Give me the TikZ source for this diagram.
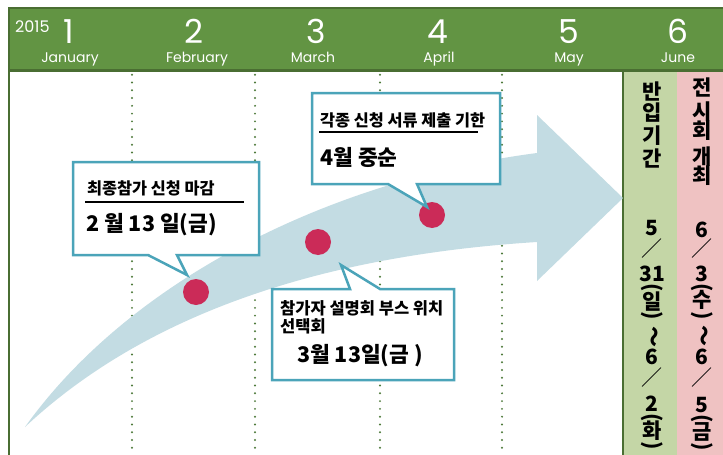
\documentclass[tikz,border=0pt]{standalone}
\usepackage{fontspec}
\newfontfamily\kr{Noto Sans CJK KR}
\newfontfamily\hdr{Poppins}
\definecolor{hdrgreen}{HTML}{629443}
\definecolor{hdrdark}{HTML}{4A6E32}
\definecolor{dotgreen}{HTML}{4E7A3B}
\definecolor{arrowblue}{HTML}{C3DCE3}
\definecolor{dotred}{HTML}{CB2B58}
\definecolor{calloutc}{HTML}{4BA4B9}
\definecolor{colgreen}{HTML}{C4D6A6}
\definecolor{colpink}{HTML}{EFC2C2}
\begin{document}
\begin{tikzpicture}[x=1pt,y=-1pt,
  hdrnum/.style={font=\hdr\fontsize{33}{33}\selectfont, text=white, anchor=base, inner sep=0pt, text depth=0pt, text height=24pt},
  hdrmon/.style={font=\hdr\fontsize{14}{14}\selectfont, text=white, anchor=base, inner sep=0pt, text height=10pt},
  hdryear/.style={font=\hdr\fontsize{16}{16}\selectfont, text=white, anchor=base west, inner sep=0pt, text depth=0pt},
  dotline/.style={dotgreen, line width=2.2pt, line cap=round, dash pattern=on 0pt off 7.77pt},
  callout/.style={draw=calloutc, fill=white, line width=2.5pt, line join=miter},
  kts/.style={font=\kr\bfseries\fontsize{16.3}{17}\selectfont, anchor=west, inner sep=0pt},
  ktm/.style={font=\kr\bfseries\fontsize{16.5}{17}\selectfont, anchor=west, inner sep=0pt},
  ktl/.style={font=\kr\bfseries\fontsize{21.5}{22}\selectfont, anchor=west, inner sep=0pt},
  uline/.style={black, line width=2pt},
  reddot/.style={circle, fill=dotred, minimum size=26pt, inner sep=0pt},
  colk/.style={font=\kr\bfseries\fontsize{21}{21}\selectfont, inner sep=0pt, anchor=center},
  colslash/.style={font=\kr\fontsize{21}{21}\selectfont, inner sep=0pt, anchor=center},
  colrot/.style={font=\kr\bfseries\fontsize{21}{21}\selectfont, inner sep=0pt, anchor=center, rotate=-90}
]
\useasboundingbox (0,0) rectangle (723,455);
\fill[white] (0,0) rectangle (723,455);

% right columns
\fill[colgreen] (623,71) rectangle (677,455);
\fill[colpink] (677,71) rectangle (723,455);
\draw[hdrdark, line width=2pt] (623,71) -- (623,455);

% dotted month lines
\draw[dotline] (132,67) -- (132,455);
\draw[dotline] (255,67) -- (255,455);
\draw[dotline] (380,67) -- (380,455);
\draw[dotline] (502,67) -- (502,455);

% header band
\fill[hdrgreen] (8,8) rectangle (723,70);
\draw[hdrdark, line width=2pt] (8,8) -- (723,8);
\draw[hdrdark, line width=3pt] (8,70) -- (723,70);
\draw[hdrdark, line width=2.5pt] (9,7) -- (9,455);

\node[hdryear] (year) at (15,32) {2015};
\node[hdrnum] (n1) at (69,43) {1};
\node[hdrnum] (n2) at (194,43) {2};
\node[hdrnum] (n3) at (316,43) {3};
\node[hdrnum] (n4) at (438,43) {4};
\node[hdrnum] (n5) at (569,43) {5};
\node[hdrnum] (n6) at (678,43) {6};
\node[hdrmon] (m1) at (70,62) {January};
\node[hdrmon] (m2) at (197,62) {February};
\node[hdrmon] (m3) at (313,62) {March};
\node[hdrmon] (m4) at (439,62) {April};
\node[hdrmon] (m5) at (569,62) {May};
\node[hdrmon] (m6) at (678,62) {June};

% big curved arrow
\fill[arrowblue] (25,427) .. controls (130,280) and (330,180) .. (537,153)
  -- (537,115) -- (623,198) -- (537,281) -- (537,242)
  .. controls (330,255) and (150,310) .. (25,427) -- cycle;

% milestone dots
\node[reddot] (d1) at (196,292) {};
\node[reddot] (d2) at (318,242) {};
\node[reddot] (d3) at (432,215) {};

% callout 1
\draw[callout] (73,162) -- (259,162) -- (259,255) -- (177,255) -- (187,275) -- (148,255) -- (73,255) -- cycle;
\node[kts] (t1a) at (87,188) {최종참가 신청 마감};
\draw[uline] (85,202) -- (244,202);
\node[ktl] (t1b) at (86,225) {2 월 13 일(금)};

% callout 2
\draw[callout] (312,93) -- (500,93) -- (500,184) -- (417,184) -- (427,207) -- (388,184) -- (312,184) -- cycle;
\node[kts] (t2a) at (320,120) {각종 신청 서류 제출 기한};
\draw[uline] (319,132) -- (478,132);
\node[ktl] (t2b) at (320,157) {4월 중순};

% callout 3
\draw[callout] (272,289) -- (350,289) -- (341,265) -- (380,289) -- (454,289) -- (454,380) -- (272,380) -- cycle;
\node[ktm] (t3a) at (280,308) {참가자 설명회 부스 위치};
\node[ktm] (t3b) at (280,326) {선택회};
\node[ktl] (t3c) at (297,356) {3월 13일(금 )};

% green column vertical text
\foreach \t/\y [count=\i] in {반/91, 입/113, 기/136, 간/158, 5/228, 31/274, 일/302, 6/357, 2/404, 화/431}
  \node[colk] (g\i) at (652,\y) {\t};
\node[colslash] (gs1) at (652,249) {／};
\node[colslash] (gs2) at (652,378) {／};
\node[colrot] (gp1) at (652,288) {(};
\node[colrot] (gp2) at (652,316) {)};
\node[colrot] (gp3) at (652,418) {(};
\node[colrot] (gp4) at (652,446) {)};
\node[colrot] (gw) at (652,337) {～};

% pink column vertical text
\foreach \t/\y [count=\i] in {전/87, 시/112, 회/131, 개/157, 최/176, 6/230, 3/274, 수/300, 6/357, 5/405, 금/432}
  \node[colk] (p\i) at (702,\y) {\t};
\node[colslash] (ps1) at (702,249) {／};
\node[colslash] (ps2) at (702,378) {／};
\node[colrot] (pp1) at (702,288) {(};
\node[colrot] (pp2) at (702,316) {)};
\node[colrot] (pp3) at (702,419) {(};
\node[colrot] (pp4) at (702,447) {)};
\node[colrot] (pw) at (702,336) {～};
\end{tikzpicture}
\end{document}
